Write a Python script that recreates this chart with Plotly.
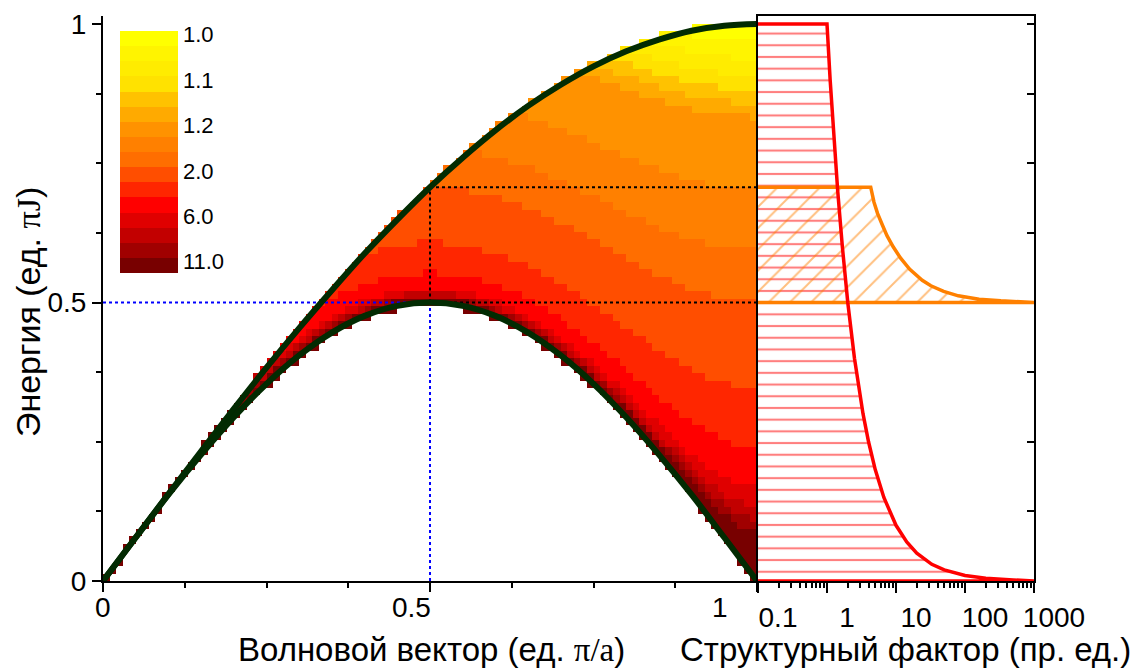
import numpy as np
import plotly.graph_objects as go

# ---------------- data ----------------
# wave vector (units of pi/a) and continuum boundaries (units of pi*J)
q_curve = [0.00, 0.05, 0.10, 0.15, 0.20, 0.25, 0.30, 0.35, 0.40, 0.45, 0.50,
           0.55, 0.60, 0.65, 0.70, 0.75, 0.80, 0.85, 0.90, 0.95, 1.00]
E_upper = [0.000, 0.078, 0.156, 0.233, 0.309, 0.383, 0.454, 0.522, 0.588, 0.649, 0.707,
           0.760, 0.809, 0.853, 0.891, 0.924, 0.951, 0.972, 0.988, 0.997, 1.000]
E_lower = [0.000, 0.078, 0.155, 0.227, 0.294, 0.354, 0.405, 0.446, 0.476, 0.494, 0.500,
           0.494, 0.476, 0.446, 0.405, 0.354, 0.294, 0.227, 0.155, 0.078, 0.000]

# structure factor cross-section at q = 1 (red): energy -> S
E_red = [1.0, 0.9, 0.8, 0.7, 0.6, 0.5, 0.4, 0.3, 0.25, 0.2, 0.15, 0.1, 0.07,
         0.05, 0.03, 0.02, 0.01, 0.005, 0.002, 0.001]
S_red = [1.0, 1.11, 1.25, 1.43, 1.67, 2.0, 2.5, 3.33, 4.0, 5.0, 6.67, 10, 14.3,
         20, 33, 50, 100, 200, 500, 1000]

# structure factor cross-section at q = 0.5 (orange)
E_orange = [0.707, 0.68, 0.66, 0.64, 0.62, 0.60, 0.58, 0.56, 0.54, 0.53, 0.52,
            0.512, 0.506, 0.503, 0.5015, 0.500]
S_orange = [4.3, 4.8, 5.4, 6.3, 7.4, 9.1, 11.6, 15.7, 24, 32, 49,
            80, 160, 330, 660, 1000]

# colour levels of the map (labels at every third band)
level_values = [1.0, 1.1, 1.2, 2.0, 6.0, 11.0]
level_labels = ["1.0", "1.1", "1.2", "2.0", "6.0", "11.0"]
band_colors = ["#FFFF00", "#FFF400", "#FFEC00", "#FFE200", "#FFC200", "#FFAA00",
               "#FF9200", "#FF8000", "#FF6E00", "#FF4E00", "#FF2600", "#FF0000",
               "#E00000", "#C20000", "#A00000", "#780000"]

# guide lines
q_mark = 0.5
E_mark_low = 0.5
E_mark_high = 0.707

# axis ticks
x_left_ticks = [0, 0.5, 1]
x_left_text = ["0", "0.5", "1"]
y_ticks = [0, 0.5, 1]
y_text = ["0", "0.5", "1"]
s_ticks = [0.1, 1, 10, 100, 1000]
s_text = ["0.1", "1", "10", "100", "1000"]

# ---------------- build map table ----------------
n_q, n_E = 100, 75
q_c = (np.arange(n_q) + 0.5) / n_q
E_c = (np.arange(n_E) + 0.5) / n_E
dE = 1.0 / n_E
lo = np.interp(q_c, q_curve, E_lower)
up = np.interp(q_c, q_curve, E_upper)

# band thresholds: geometric steps between the labelled levels
thr = []
for i in range(len(level_values) - 1):
    a, b = level_values[i], level_values[i + 1]
    for j in range(3):
        thr.append(a * (b / a) ** (j / 3))
thr.append(level_values[-1])
thr = np.array(thr)

logE_inc = np.log10(np.array(E_red[::-1]))
logS_inc = np.log10(np.array(S_red[::-1]))

Z = np.full((n_E, n_q), np.nan)
for i in range(n_q):
    for j in range(n_E):
        e = E_c[j]
        if e + 0.5 * dE > lo[i] and e - 0.5 * dE < up[i]:
            ecl = min(max(e, lo[i]), up[i])
            eps = np.sqrt(max(ecl ** 2 - lo[i] ** 2, 1e-10))
            s = 10 ** np.interp(np.log10(eps), logE_inc, logS_inc)
            band = int(np.clip(np.searchsorted(thr, s, side="right") - 1, 0, 15))
            Z[j, i] = 15 - band

colorscale = []
for k in range(16):
    c = band_colors[15 - k]
    colorscale.append([k / 16, c])
    colorscale.append([(k + 1) / 16, c])

FONT = "Liberation Sans"
W, H = 1137, 669

fig = go.Figure()

fig.add_trace(go.Heatmap(
    x=q_c, y=E_c, z=Z, xaxis="x", yaxis="y",
    colorscale=colorscale, zmin=-0.5, zmax=15.5, hoverinfo="skip",
    colorbar=dict(
        x=120 / W, xanchor="left", y=(H - 31) / H, yanchor="top",
        len=242, lenmode="pixels", thickness=58, thicknessmode="pixels",
        outlinewidth=0, xpad=0, ypad=0, ticks="", ticklen=0,
        tickvals=[15.25 - 3 * k for k in range(6)], ticktext=level_labels,
        tickfont=dict(family=FONT, size=22, color="black"),
    ),
))

# guide lines
fig.add_trace(go.Scatter(x=[q_mark, q_mark, None, 0, q_mark],
                         y=[0, E_mark_low, None, E_mark_low, E_mark_low],
                         mode="lines", line=dict(color="#0000FF", width=2, dash="dot"),
                         hoverinfo="skip", showlegend=False, xaxis="x", yaxis="y"))
fig.add_trace(go.Scatter(x=[q_mark, q_mark, None, q_mark, 1, None, q_mark, 1],
                         y=[E_mark_low, E_mark_high, None, E_mark_high, E_mark_high, None,
                            E_mark_low, E_mark_low],
                         mode="lines", line=dict(color="black", width=2, dash="dot"),
                         hoverinfo="skip", showlegend=False, xaxis="x", yaxis="y"))

# continuum boundaries
for ys in (E_upper, E_lower):
    fig.add_trace(go.Scatter(x=q_curve, y=ys, mode="lines",
                             line=dict(color="#022b02", width=6, shape="spline"),
                             hoverinfo="skip", showlegend=False, xaxis="x", yaxis="y"))

# right panel: hatched areas
s_min, s_max = s_ticks[0], s_ticks[-1]
red_x = [s_min, 1.0] + S_red + [s_max, s_max, s_min]
red_y = [E_red[0], E_red[0]] + E_red + [E_red[-1], 0, 0]
org_x = [s_min] + S_orange + [s_min]
org_y = [E_orange[0]] + E_orange + [E_orange[-1]]

fig.add_trace(go.Scatter(x=red_x, y=red_y, mode="lines", fill="toself",
                         line=dict(width=0, color="rgba(0,0,0,0)"),
                         fillcolor="rgba(0,0,0,0)",
                         fillpattern=dict(shape="-", fgcolor="#FF0000", bgcolor="rgba(0,0,0,0)",
                                          size=11.7, solidity=0.18),
                         hoverinfo="skip", showlegend=False, xaxis="x2", yaxis="y2"))
fig.add_trace(go.Scatter(x=org_x, y=org_y, mode="lines", fill="toself",
                         line=dict(width=0, color="rgba(0,0,0,0)"),
                         fillcolor="rgba(0,0,0,0)",
                         fillpattern=dict(shape="/", fgcolor="#FF8000", bgcolor="rgba(0,0,0,0)",
                                          size=15, solidity=0.13),
                         hoverinfo="skip", showlegend=False, xaxis="x2", yaxis="y2"))
fig.add_trace(go.Scatter(x=org_x[:-1] + [s_min], y=org_y,
                         mode="lines", line=dict(color="#FF8000", width=3.5),
                         hoverinfo="skip", showlegend=False, xaxis="x2", yaxis="y2"))
fig.add_trace(go.Scatter(x=red_x, y=red_y, mode="lines",
                         line=dict(color="#FF0000", width=3.5),
                         hoverinfo="skip", showlegend=False, xaxis="x2", yaxis="y2"))

tick_font = dict(family=FONT, size=28, color="black")
ydom = [(H - 581) / H, (H - 16) / H]
yrange = [0, 1.0144]

fig.update_layout(
    width=W, height=H, margin=dict(l=0, r=0, t=0, b=0, pad=0, autoexpand=False),
    paper_bgcolor="white", plot_bgcolor="rgba(0,0,0,0)", showlegend=False,
    xaxis=dict(domain=[103 / W, 757 / W], range=[0, 1], anchor="y", automargin=False,
               showline=True, linecolor="black", linewidth=2, showgrid=False, zeroline=False,
               ticks="outside", tickvals=x_left_ticks, ticklen=9, tickwidth=2, tickcolor="black",
               showticklabels=False,
               minor=dict(dtick=0.125, tick0=0, ticks="outside", ticklen=5, tickwidth=2,
                          tickcolor="black", showgrid=False)),
    yaxis=dict(domain=ydom, range=yrange, anchor="x", automargin=False,
               showline=True, linecolor="black", linewidth=2, showgrid=False, zeroline=False,
               ticks="outside", tickvals=y_ticks, ticktext=y_text, ticklen=9, tickwidth=2,
               tickcolor="black", tickfont=tick_font,
               minor=dict(dtick=0.125, tick0=0, ticks="outside", ticklen=5, tickwidth=2,
                          tickcolor="black", showgrid=False)),
    xaxis2=dict(domain=[758 / W, 1034 / W], type="log", range=[-1, 3], anchor="y2",
                automargin=False,
                showline=True, mirror=True, linecolor="black", linewidth=2, showgrid=False,
                zeroline=False, ticks="outside", tickvals=s_ticks, ticktext=s_text,
                ticklen=10, tickwidth=2, tickcolor="black", tickfont=tick_font,
                ticklabelshift=20, layer="below traces",
                minor=dict(dtick="D1", ticks="outside", ticklen=5, tickwidth=1.5,
                           tickcolor="black", showgrid=False)),
    yaxis2=dict(domain=ydom, range=yrange, anchor="x2", side="right", automargin=False,
                showline=True, mirror=True, linecolor="black", linewidth=2, showgrid=False,
                zeroline=False, ticks="inside", tick0=0, dtick=0.125, ticklen=7, tickwidth=2,
                tickcolor="black", showticklabels=False, layer="below traces"),
)

serif = "<span style=\"font-family:'Liberation Serif'\">%s</span>"
title_font = dict(family=FONT, size=33, color="black")
annotations = []
shifts = [0, -19, -37]
for v, t, sh in zip(x_left_ticks, x_left_text, shifts):
    annotations.append(dict(x=v, xref="x", y=(H - 607) / H, yref="paper", text=t,
                            showarrow=False, xshift=sh, font=tick_font,
                            xanchor="center", yanchor="middle"))
annotations.append(dict(x=431 / W, xref="paper", y=(H - 649) / H, yref="paper",
                        text="Волновой вектор (ед. " + serif % "π/a" + ")",
                        showarrow=False, font=title_font, xanchor="center", yanchor="middle"))
annotations.append(dict(x=905 / W, xref="paper", y=(H - 649) / H, yref="paper",
                        text="Структурный фактор (пр. ед.)",
                        showarrow=False, font=title_font, xanchor="center", yanchor="middle"))
annotations.append(dict(x=28 / W, xref="paper", y=(H - 312) / H, yref="paper",
                        text="Энергия (ед. " + serif % "πJ" + ")", textangle=-90,
                        showarrow=False, font=dict(family=FONT, size=34, color="black"),
                        xanchor="center", yanchor="middle"))
fig.update_layout(annotations=annotations)

fig.write_html("out.html")
